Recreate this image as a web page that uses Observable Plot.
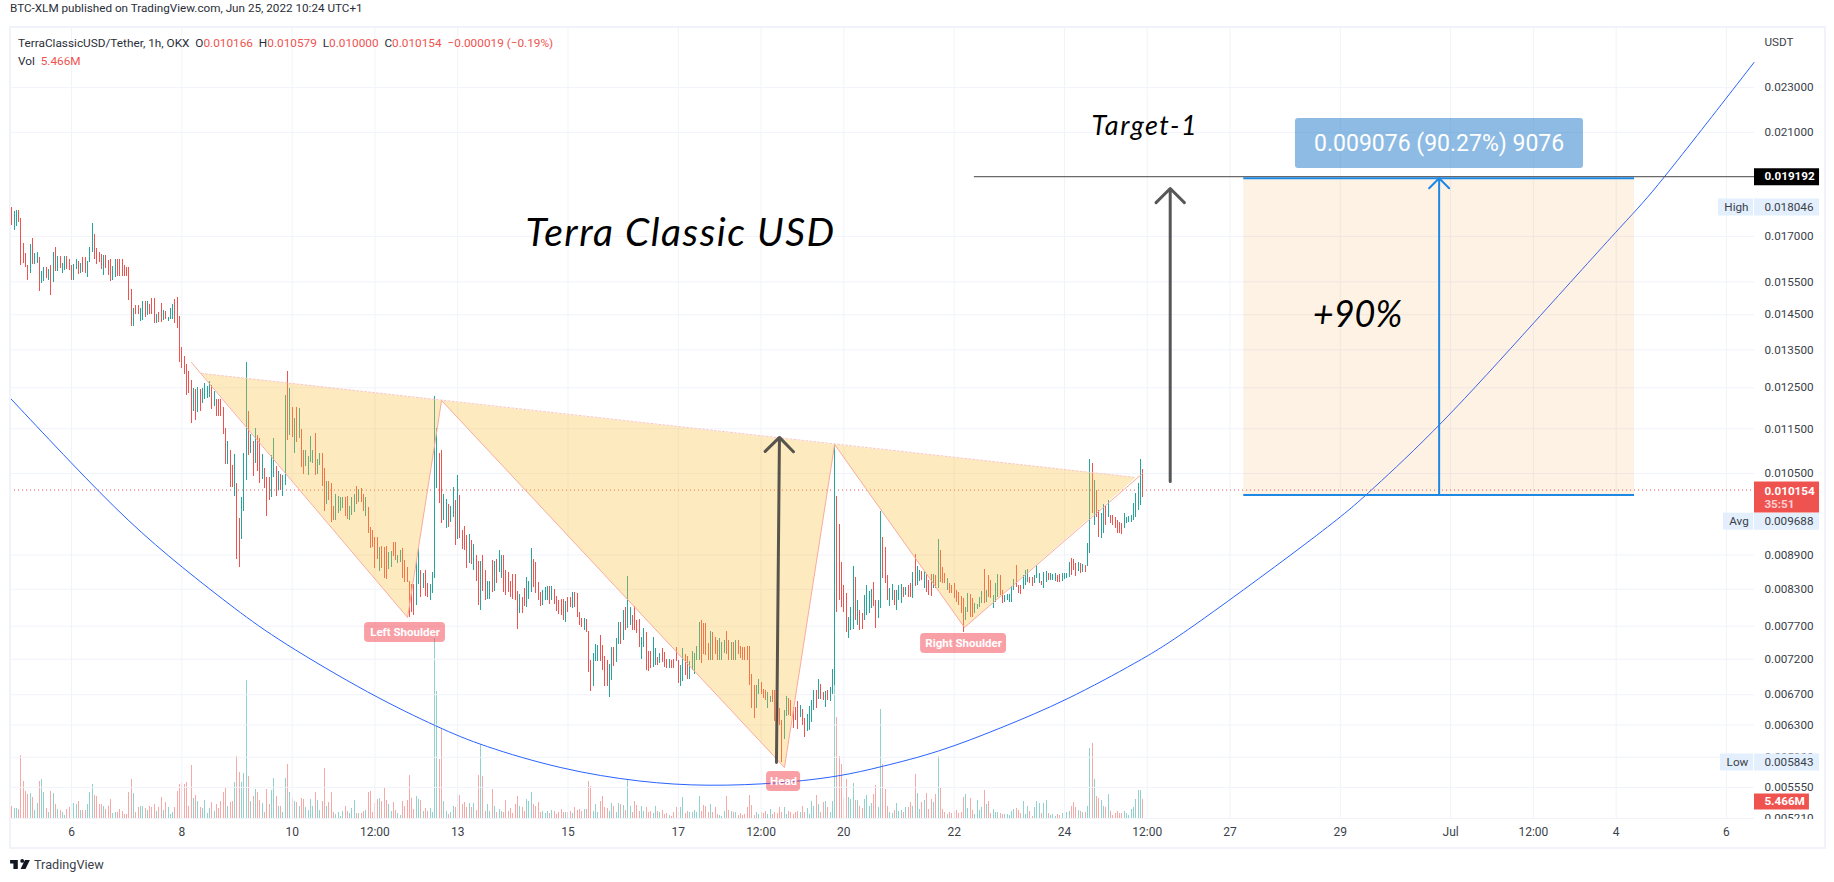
<!DOCTYPE html>
<html><head><meta charset="utf-8">
<script src="https://cdn.jsdelivr.net/npm/d3@7"></script>
<script src="https://cdn.jsdelivr.net/npm/@observablehq/plot@0.6"></script>
<style>
html,body{margin:0;padding:0;background:#fff;font-family:Roboto,sans-serif;color:#131722;overflow:hidden}
#head{height:26px;line-height:17px;font-size:11.7px;padding-left:10px;color:#2a2e39;box-sizing:border-box}
#wrap{position:relative;width:1834px;height:820px}
#wrap svg{position:absolute;left:0;top:0}
#frame{position:absolute;left:9px;top:0;width:1813px;height:819px;border:2px solid #f0f3fa;pointer-events:none}
#legend{position:absolute;left:18px;top:8px;font-size:11.8px;line-height:18px;color:#2a2e39;z-index:3}
#legend b{font-weight:400;color:#ef5350}
#foot{height:36px;padding-left:10px;display:flex;align-items:center;gap:4px;font-size:12.7px;color:#3b3f4a;box-sizing:border-box}
.spaced text{letter-spacing:1.5px}
</style></head><body>
<div id="head">BTC-XLM published on TradingView.com, Jun 25, 2022 10:24 UTC+1</div>
<div id="wrap">
<div id="frame"></div>
<div id="legend">TerraClassicUSD/Tether, 1h, OKX&nbsp; O<b>0.010166</b>&nbsp; H<b>0.010579</b>&nbsp; L<b>0.010000</b>&nbsp; C<b>0.010154</b>&nbsp; <b>−0.000019 (−0.19%)</b><br>Vol&nbsp; <b>5.466M</b></div>
</div>
<div id="foot"><svg width="20" height="11" viewBox="0 0 36 20"><path fill="#131722" d="M14 2H0v6h6v10h8V2zM22 7a3.5 3.5 0 1 0 0-7 3.5 3.5 0 0 0 0 7zM27 2h9l-8 16h-9z"/></svg><span>TradingView</span></div>
<script>
// hourly bars; hours are counted from Jun 6 00:00, the first bar is Jun 4 22:00. Prices in millionths of USDT.
const firstBarHour = -26;
const high = [
18046,17885,17919,17919,17630,16758,16410,16026,16726,16929,
16410,16453,16288,15831,15960,15960,15895,16026,16453,16620,
16320,16320,16091,16320,16320,16222,16026,16059,16222,16156,
16091,16288,16288,16156,16620,17453,17067,16588,16453,16387,
16354,16354,16189,16222,15993,16222,16222,16222,16222,16026,
15960,15960,15262,14685,14775,14775,14685,14895,14895,14895,
14805,14986,14986,14508,14566,14835,14625,14596,14419,14685,
14805,14955,15017,14448,13567,13318,13105,12921,12687,12482,
12456,12507,12456,12482,12610,12533,12661,12559,12406,12206,
12206,12206,12009,11508,11208,11005,10675,10916,10291,9585,
10000,10938,13159,11912,11369,11208,11508,11346,11277,10916,
10610,10418,10418,10894,11277,10654,10546,10482,10460,12306,
12921,12482,12009,11744,12009,11985,11484,11005,11005,10872,
11323,11005,11392,10806,10938,10938,10610,10333,10333,10291,
9822,10064,10020,10000,10000,10000,10020,9822,10000,10064,
10229,10167,10188,10064,10000,9802,9412,9354,9222,9222,
9037,9056,9037,9056,8946,8964,9129,9129,8891,8982,
9019,8801,8677,8434,8383,8383,8819,9037,8624,8572,
8624,8400,8383,8589,12281,11508,10938,11005,10064,9962,
9862,9822,10208,9942,10460,10043,9354,9431,9260,9279,
9166,9092,8891,8783,8783,8891,8624,8434,8434,8801,
8783,8819,8982,8891,8891,8624,8589,8434,8555,8555,
8264,8214,8164,8315,8503,8434,9019,8819,8766,8417,
8247,8281,8332,8349,8349,8349,8298,8180,8114,8130,
8130,8098,8164,8164,8247,8247,8231,7919,7822,7822,
7806,7619,7183,7286,7420,7405,7557,7405,7242,7183,
7125,7375,7375,7512,7760,7760,7951,7999,8520,7999,
7871,8015,7791,7806,7527,7665,7604,7315,7315,7527,
7360,7227,7286,7360,7301,7198,7198,7183,7198,7375,
7183,7110,7360,7271,7242,7168,7315,7286,7390,7760,
7791,7744,7744,7435,7619,7604,7527,7481,7512,7451,
7481,7619,7481,7451,7451,7481,7481,7390,7375,7375,
7390,7390,6982,6827,6827,6911,6869,6772,6758,6731,
6676,6758,6758,6595,6515,6359,6489,6676,6649,6622,
6529,6529,6609,6555,6502,6385,6437,6542,6622,6758,
6758,6911,6841,6731,6744,6758,6800,7052,11140,10020,
9469,8766,8366,8231,7838,7999,8694,8503,8114,7951,
7903,8198,8366,8264,8298,8417,8114,8114,9722,9222,
9037,8537,8315,8383,8281,8281,8366,8383,8332,8332,
8366,8400,8589,8910,8694,8624,8607,8607,8555,8451,
8555,8555,8537,9185,8982,8677,8572,8486,8400,8366,
8400,8281,8247,8180,8147,7999,8231,8214,8147,8064,
8048,8164,8264,8642,8281,8537,8451,8198,8400,8555,
8537,8281,8198,8214,8214,8349,8468,8712,8366,8366,
8537,8624,8642,8503,8503,8537,8712,8572,8434,8589,
8607,8572,8572,8555,8572,8537,8555,8572,8572,8572,
8766,8836,8819,8748,8766,8748,8730,8712,9110,10806,
10718,10354,10146,9742,9682,9862,9822,9942,9644,9644,
9605,9546,9508,9489,9682,9605,9625,9644,9882,10085,
10291,10806,10579];
const low = [
17380,17206,17347,17499,16026,16080,15948,15544,15767,16059,
16059,16080,15200,15450,15513,15598,15544,15078,15481,15831,
15831,15917,15767,15863,15895,15863,15544,15544,15895,15735,
15767,15790,15767,15640,16124,16453,16222,16059,16124,15895,
15703,15928,15703,15513,15544,15640,15671,15671,15671,15671,
15671,14925,14158,14158,14508,14508,14303,14331,14419,14478,
14508,14508,14245,14245,14274,14274,14331,14360,14303,14360,
14360,14245,14100,13159,13000,12851,12306,12356,11627,11912,
11696,11887,11912,12107,12206,12231,12256,11960,12034,11792,
11792,11792,11369,10697,10697,10208,10208,10020,8819,8677,
9185,9722,10354,10894,10938,10439,10718,10546,10291,10375,
10188,9625,9942,10000,10418,10020,10146,10146,10020,10250,
11231,11346,11300,10938,11186,11277,10632,10482,10654,10460,
10740,10718,10460,10482,10675,10229,9722,9862,9942,9508,
9546,9546,9682,9722,9782,9625,9566,9546,9644,9702,
9862,9902,9902,9722,9625,9298,9019,9037,8659,8819,
8607,8659,8486,8468,8642,8677,8872,8801,8748,8766,
8486,8417,8417,7838,7919,7870,8032,8383,8170,8315,
8180,8170,8114,8231,8486,10188,9882,9489,9546,9392,
9412,9508,9605,9074,9185,9203,9001,8982,8659,8748,
8730,8624,8434,8032,7951,8264,8114,8130,8130,8247,
8264,8400,8589,8486,8247,8198,8247,8164,8130,8114,
7650,7903,7903,8015,7999,8130,8247,8332,8231,8114,
8015,8032,8114,8114,8048,8114,8048,7935,7887,7871,
7791,7760,7919,7999,7983,7999,7838,7712,7681,7634,
7604,7010,6744,6813,7168,7168,7168,7038,6813,6813,
6663,6897,7096,7154,7420,7420,7481,7634,7665,7712,
7634,7634,7588,7375,7198,7375,7038,7024,7067,7082,
7110,7110,7139,7154,7082,7067,7067,7067,7067,7168,
6855,6813,6883,6967,6911,6911,7038,6982,7183,7183,
7139,7271,7257,7183,7183,7183,7271,7183,7183,7183,
7286,7271,7183,7183,7183,7183,7271,7213,7183,7183,
7183,6827,6515,6385,6515,6704,6704,6649,6622,6515,
6595,6595,6346,6333,6295,5843,6117,6411,6424,6411,
6256,6359,6244,6398,6295,6142,6218,6231,6333,6489,
6515,6635,6635,6622,6529,6622,6609,6704,6827,7919,
8114,7999,7919,7604,7512,7634,7650,7791,7712,7634,
7650,7791,7871,7903,7983,8015,7665,7822,7983,8486,
8400,8114,8015,8114,8032,7951,8114,8064,8164,8198,
8164,8164,8147,8349,8366,8434,8451,8315,8247,8198,
8180,8315,8315,8315,8417,8400,8400,8281,8231,8231,
8147,8081,8032,7903,7604,7791,7919,7838,7838,7903,
7967,7999,8064,8064,8081,8164,8147,7983,8081,8164,
8198,8064,8081,8114,8081,8081,8281,8332,8231,8214,
8298,8366,8417,8400,8349,8400,8486,8400,8366,8315,
8417,8451,8451,8451,8434,8417,8417,8434,8468,8486,
8503,8537,8624,8520,8607,8572,8589,8589,8694,8928,
9682,9450,9605,9222,9203,9298,9450,9605,9489,9450,
9392,9298,9298,9279,9392,9489,9508,9508,9546,9605,
9742,9842,10000];
// u = up bar (teal), d = down bar (red)
const direction = `
d u u d d d d d u d  u u d u u d u d u d  u d u u d d d u u d  u d d u u u d d d d
u d d d u u d d d d  d d d u d d u u d u  d d d u d d u d u u  u d d d d d d d d u
d u d u u u u d u d  d d d d u d d u d d  u u u d u d u d d u  d d d u u d u d u u
d u d u d u d d u u  u u d u u d d u d d  d u u u u d d u u u  d u d d u d d d d d
u d d d u u d d u u  d d d d d d u u d u  d d u u u u d d u u  d u u d u d d d d u
d u d d u d d u u d  u d u u d d d d d d  d u d d u u u d d d  d u u u d u d d d d
d u d d u d d d d u  d d d u u u d d d d  u u d u u d u d u u  d d d d u u d d d u
u d u d d d u d d d  d u u d d u u u u u  d d d d u d d d u u  u d d u d u d d d d
d d d d u u d d d u  u d d d d d u u d d  d d d u d d u u u u  d u d d u d u u u d
d d d d u u u d u d  d u u u u d d u u d  d d u u d u u u d u  d d u d u u d u d d
d u d u d d d u d d  d d d d d u u d d u  u u u d u d d u u u  d d u u u u u d d d
u u u d d u u u d u  u d u u u d d u u u  u d d d u d u d u u  d u d d u u d u d d
d d d d u u u u u u  u u d`.replace(/\s/g, "");
// volume in millions
const volume = [
3.6,2.8,2.8,2.5,18.3,10.8,7.7,6.8,7.1,6.0,
2.2,4.2,10.6,11.1,7.4,2.8,1.6,7.7,7.1,3.9,
2.5,2.2,1.6,.8,2.5,3.1,4.5,4.2,3.9,4.8,
2.2,2.2,2.2,3.9,7.4,9.7,6.5,6.2,3.9,3.9,
3.4,2.5,3.6,5.4,1.3,1.6,1.6,2.5,1.9,1.1,
1.1,7.4,11.1,7.1,1.6,3.1,3.4,3.4,2.8,2.2,
3.4,3.1,3.9,1.9,3.1,6.0,2.2,4.5,3.1,1.1,
1.6,3.1,7.7,9.7,10.0,9.7,10.3,3.4,15.2,5.7,
6.5,4.8,3.1,2.8,5.1,1.3,2.8,4.5,1.9,3.9,
2.8,4.8,7.4,8.8,3.4,4.5,4.8,10.3,17.8,13.2,
10.3,12.9,39.7,12,4.8,6.2,8.5,7.4,5.1,4.2,
1.6,8.5,3.9,8,11.4,6.2,3.4,3.6,1.6,11.4,
15.5,7.4,5.7,4.8,4.5,3.6,5.7,5.4,3.1,2.2,
5.4,3.6,7.4,5.1,2.2,4.8,14.3,3.4,4.5,7.4,
1.6,1.1,1.6,.5,1.9,3.4,1.9,1.3,2.8,5.1,
1.3,1.3,1.3,1.9,2.2,7.4,7.7,1.6,4.2,5.4,
5.7,4.8,8.8,5.1,3.9,1.9,4.5,2.2,1.3,.8,
4.8,3.6,5.1,12.3,5.7,2.5,6.2,5.4,5.1,1.9,
2.8,1.9,2.8,1.6,51.8,36.6,16.9,25.7,4.8,1.9,
1.1,1.6,3.6,3.1,6.8,6.5,4,4.5,3.1,4.3,
3.1,4.3,2.4,12.4,21.3,12,2.1,4,2.1,8.4,
3.4,1.6,2.6,2.1,1.6,5.2,2.1,2.8,1.3,4,
6.4,3.4,3.1,2.1,5.5,5,7.4,4,3.6,4.5,
1.6,2.1,1.4,2.1,1.4,2.3,2.1,1.2,1.6,2.6,
1.6,1.8,1.6,2.1,1.4,3.1,2.4,2.6,2.1,2.6,
2.6,10.6,9.1,2.1,4,1.6,5,6.4,3.1,2.8,
2.1,4.2,3.6,1.6,4.3,4,3.8,2.3,11.2,3.4,
1.6,5,3.7,2.1,3.4,2.1,3.1,1.6,2.1,1.3,
3.4,2.1,1.6,2.4,1.2,1.3,.9,.7,1.6,3.1,
1.8,3.1,6,1.3,2.1,1.6,1.6,2.4,1.8,6.4,
2.1,3.7,3.4,1.6,4,1.6,3.1,1.2,.9,.7,
2.1,6.4,2.3,2.1,1.6,1.8,.9,1.3,.9,1.2,
3.1,6.7,3.8,1,1.6,1.2,1.6,1.3,2.1,1.1,
2.6,1.2,1.6,1.3,3.1,1.6,3.1,1.2,2,1.6,
1.2,1.6,2,1.6,3.4,1.6,2.8,1.2,5,3.6,
6.6,4,1.6,4.5,5,3.1,1.6,4.8,41.3,29.2,
17.9,15.7,5.7,11.1,6,5.4,10,5.1,5.1,3.6,
2.8,5.4,6.5,3.6,4.2,6.8,9.4,3.1,31.3,15.5,
8.3,3.4,1.6,1.3,2.2,4.2,1.9,2.2,1.6,3.1,
3.1,4.5,3.4,12.6,7.1,2.5,4.5,5.1,7.1,2.5,
5.4,4.5,6.8,18,8.8,2.5,1.6,1.1,1.6,1.3,
1.9,2.2,1.3,1.6,6,6.8,2.8,5.7,2.2,1.1,
5.1,2.2,3.1,8,3.9,4.8,1.3,2.5,1.6,1.6,
1.3,1.1,1.1,1.1,.8,1.9,2.5,2.8,2.2,1.3,
4.8,1.1,3.4,1.9,.5,3.1,4.8,4.2,1.3,4.2,
5.1,1.3,.8,1.1,.5,1.1,.8,1.3,1.6,1.6,
1.9,3.4,4.5,3.1,2.2,1.9,1.6,1.6,3.6,20.1,
21.5,11.1,6.2,5.7,5.1,3.6,3.1,6.8,1.9,.8,
1.3,1.9,1.3,1.3,1.9,1.3,.8,2.5,3.1,5.4,
8,8,5.466];
if (high.length !== 493 || low.length !== 493 || direction.length !== 493 || volume.length !== 493)
  throw new Error(`lengths ${high.length} ${low.length} ${direction.length} ${volume.length}`);

// axis ticks
const priceTicks = [23000,21000,17000,15500,14500,13500,12500,11500,10500,8900,8300,7700,7200,6700,6300,5900,5550,5210];
const timeTickHours = [0,48,96,132,168,216,264,300,336,384,432,468,504,552,600,636,672,720];
const timeTickLabels = ["6","8","10","12:00","13","15","17","12:00","20","22","24","12:00","27","29","Jul","12:00","4","6"];

// the rounded cup: [hour, price]
const cupCurve = [[-26.5,12230],[0,10718],[25,9508],[48,8677],[72,7951],[90,7481],[130.5,6690],[160.5,6256],[178,6044],[213,5756],[247.5,5607],[277,5561],[308.5,5595],[334.5,5675],[352,5785],[377,5958],[404,6256],[433,6622],[465,7183],[482.5,7541],[551,9546],[564,10085],[595,11530],[636,14245],[679.5,17847],[687,18474],[732,24206]];
// head and shoulders drawing: [hour, price]
const patternLine = [[52.2,13159],[146.2,7838],[161,12181],[310.2,5779],[332,11140],[388.5,7681],[466,10503]];
const necklinePoints = [[56.6,12870],[463,10417]];
const patternFills = [
  [[56.6,12870],[146.2,7838],[161,12181]],
  [[161,12181],[310.2,5779],[332,11140]],
  [[332,11140],[388.5,7681],[463,10417]]];
const patternLabels = [
  {text:"Left Shoulder",from:127.5,to:162.7,top:7760,bottom:7451,at:145.1,mid:7604},
  {text:"Right Shoulder",from:369.4,to:406.8,top:7588,bottom:7286,at:388.1,mid:7437},
  {text:"Head",from:302.4,to:317.2,top:5732,bottom:5505,at:309.8,mid:5617}];
// drawings
const blackArrows = [{h1:306.7,p1:5838,h2:308,p2:11300},{h1:478,p1:10333,h2:478,p2:18740}];
const measure = {from:510,to:680,bottom:10054,top:19130,arrowAt:595,labelFrom:532.5,labelTo:657.8,labelTop:21601,labelBottom:19515,labelPrice:20533};
const targetLine = {from:392.8,price:19192};
const lastPrice = 10154;
const notes = [
  {text:"Terra Classic USD",h:265,price:17102,size:39,cls:"spaced"},
  {text:"Target-1",h:467,price:21255,size:27,cls:"spaced"},
  {text:"+90%",h:559.5,price:14478,size:36,cls:"plain"}];
// price-axis tags: price, box end hours, text hour, colours
const axisEnd = 732.2, tagEnd = 760.5, tagText = 736.5;
const valueTags = [
  {price:19192,label:"0.019192",color:"#000000",ink:"#ffffff",h:17,bold:1,dy:0},
  {price:18046,label:"0.018046",color:"#e3effd",ink:"#3b3f4a",h:17,bold:0,dy:0},
  {price:9688,label:"0.009688",color:"#e3effd",ink:"#3b3f4a",h:17,bold:0,dy:8},
  {price:5843,label:"0.005843",color:"#e3effd",ink:"#3b3f4a",h:17,bold:0,dy:0}];
const nameTags = [
  {price:18046,label:"High",from:716.5,dy:0},
  {price:9688,label:"Avg",from:718.7,dy:8},
  {price:5843,label:"Low",from:717.4,dy:0}];

const T0 = Date.UTC(2022, 5, 6);
const t = h => new Date(T0 + h * 36e5);
const p = v => v / 1e6;
const xScale = {type: "utc", domain: [t(-26.54), t(axisEnd)]};
const yDomain = [p(5210), p(25988)];
const size = {width: 1834, height: 820, marginLeft: 10, marginRight: 80, marginTop: 1, marginBottom: 28};
const TEAL = "#26a69a", RED = "#ef5350", GRID = "#f0f3fa", FONT = "Roboto";
const bars = high.map((v, i) => ({time: t(firstBarHour + i), high: p(v), low: p(low[i]), volume: volume[i], up: direction[i] === "u"}));
const ups = bars.filter(d => d.up), downs = bars.filter(d => !d.up);
const pts = a => a.map(([h, v]) => ({x: t(h), y: p(v)}));

const volumePlot = Plot.plot({...size,
  style: {background: "transparent"},
  x: {...xScale, axis: null}, y: {domain: [0, 228], axis: null},
  marks: [
    Plot.ruleX(ups, {x: "time", y1: () => 0, y2: "volume", stroke: TEAL, strokeOpacity: .5, strokeWidth: 1, shapeRendering: "crispEdges"}),
    Plot.ruleX(downs, {x: "time", y1: () => 0, y2: "volume", stroke: RED, strokeOpacity: .5, strokeWidth: 1, shapeRendering: "crispEdges"})
  ]});

const pricePlot = Plot.plot({...size,
  style: {background: "transparent", fontFamily: FONT, fontSize: "11.7px", color: "#3b3f4a"},
  x: {...xScale}, y: {type: "log", domain: yDomain},
  marks: [
    Plot.gridX(timeTickHours.map(t), {stroke: GRID, strokeOpacity: 1}),
    Plot.gridY(priceTicks.map(p), {stroke: GRID, strokeOpacity: 1}),
    Plot.axisX({anchor: "bottom", ticks: timeTickHours.map(t), tickSize: 0, tickPadding: 9, label: null,
      tickFormat: d => timeTickLabels[timeTickHours.indexOf((d - T0) / 36e5)], fontSize: 12}),
    Plot.axisY({anchor: "right", ticks: priceTicks.map(p), tickSize: 0, tickPadding: 10, label: null, tickFormat: d => d.toFixed(6)}),
    // the lowest tick is cut off by the bottom of the price pane
    Plot.ruleY([p(5210)], {x1: () => t(axisEnd), x2: () => t(tagEnd), stroke: "#fff", strokeWidth: 9, dy: 5}),
    Plot.ruleY([p(lastPrice)], {stroke: RED, strokeDasharray: "1 3"}),
    Plot.line(pts(cupCurve), {x: "x", y: "y", curve: "basis", stroke: "#2962ff", strokeWidth: 1}),
    Plot.ruleX(ups, {x: "time", y1: "low", y2: "high", stroke: TEAL, strokeWidth: 1, shapeRendering: "crispEdges"}),
    Plot.ruleX(downs, {x: "time", y1: "low", y2: "high", stroke: RED, strokeWidth: 1, shapeRendering: "crispEdges"}),
    ...patternFills.map(f => Plot.line(pts(f), {x: "x", y: "y", stroke: "none", fill: "#fbbf3c", fillOpacity: .33})),
    Plot.line(pts(patternLine), {x: "x", y: "y", stroke: "#f8ab9c", strokeWidth: 1}),
    Plot.line(pts(necklinePoints), {x: "x", y: "y", stroke: "#f9c8c4", strokeWidth: 1, strokeDasharray: "2 2"}),
    // measuring tool
    Plot.rect([measure], {x1: d => t(d.from), x2: d => t(d.to), y1: d => p(d.bottom), y2: d => p(d.top), fill: "#f57c00", fillOpacity: .1}),
    Plot.ruleY([targetLine], {x1: d => t(d.from), x2: () => t(axisEnd), y: d => p(d.price), stroke: "#444", strokeWidth: 1}),
    Plot.ruleY([measure.top, measure.bottom], {x1: () => t(measure.from), x2: () => t(measure.to), y: p, stroke: "#1e88e5", strokeWidth: 2}),
    Plot.arrow([measure], {x1: d => t(d.arrowAt), x2: d => t(d.arrowAt), y1: d => p(d.bottom), y2: d => p(d.top), bend: 0,
      stroke: "#1e88e5", strokeWidth: 2, headLength: 10.6, headAngle: 90}),
    Plot.rect([measure], {x1: d => t(d.labelFrom), x2: d => t(d.labelTo), y1: d => p(d.labelBottom), y2: d => p(d.labelTop), fill: "#1e77c8", fillOpacity: .5, rx: 3}),
    Plot.text([measure], {x: d => t(d.arrowAt), y: d => p(d.labelPrice), text: () => "0.009076 (90.27%) 9076", fill: "#fff", fontSize: 23, fontFamily: FONT}),
    Plot.arrow(blackArrows, {x1: d => t(d.h1), x2: d => t(d.h2), y1: d => p(d.p1), y2: d => p(d.p2), bend: 0,
      stroke: "#3a3a3a", strokeOpacity: .85, strokeWidth: 3, headLength: 10, headAngle: 90}),
    // pattern labels
    Plot.rect(patternLabels, {x1: d => t(d.from), x2: d => t(d.to), y1: d => p(d.bottom), y2: d => p(d.top), fill: "#f23645", fillOpacity: .47, rx: 4}),
    Plot.text(patternLabels, {x: d => t(d.at), y: d => p(d.mid), text: "text", fill: "#fff", fontSize: 11.5, fontWeight: 700, fontFamily: FONT}),
    // free notes
    ...notes.map(n => Plot.text([n], {x: d => t(d.h), y: d => p(d.price), text: "text", fill: "#000", fontSize: n.size, fontStyle: "italic", fontFamily: "Lato", className: n.cls})),
    // price-axis tags
    ...valueTags.map(g => Plot.ruleY([g], {x1: () => t(axisEnd), x2: () => t(tagEnd), y: d => p(d.price), stroke: g.color, strokeWidth: g.h, dy: g.dy})),
    ...valueTags.map(g => Plot.text([g], {x: () => t(tagText), y: d => p(d.price), text: "label", textAnchor: "start", fill: g.ink, fontWeight: g.bold ? 700 : 400, dy: g.dy, fontSize: 11.7, fontFamily: FONT})),
    ...nameTags.map(g => Plot.ruleY([g], {x1: d => t(d.from), x2: () => t(axisEnd - .4), y: d => p(d.price), stroke: "#e3effd", strokeWidth: 17, dy: g.dy})),
    Plot.text(nameTags, {x: d => t((d.from + axisEnd) / 2), y: d => p(d.price), text: "label", fill: "#3b3f4a", dy: 0, fontSize: 11.7, fontFamily: FONT, filter: d => !d.dy}),
    Plot.text(nameTags, {x: d => t((d.from + axisEnd) / 2), y: d => p(d.price), text: "label", fill: "#3b3f4a", dy: 8, fontSize: 11.7, fontFamily: FONT, filter: d => d.dy}),
    // last price and volume tags
    Plot.ruleY([p(lastPrice)], {x1: () => t(axisEnd), x2: () => t(tagEnd), stroke: RED, strokeWidth: 31, dy: 7}),
    Plot.text([p(lastPrice)], {x: () => t(tagText), y: d => d, text: () => "0.010154", textAnchor: "start", fill: "#fff", fontWeight: 700, fontSize: 11.7, fontFamily: FONT, dy: 1}),
    Plot.text([p(lastPrice)], {x: () => t(tagText), y: d => d, text: () => "35:51", textAnchor: "start", fill: "#fbd0cf", fontWeight: 700, fontSize: 11.7, fontFamily: FONT, dy: 14}),
    Plot.ruleY([p(5393)], {x1: () => t(axisEnd), x2: () => t(756.1), stroke: RED, strokeWidth: 16}),
    Plot.text([p(5393)], {x: () => t(tagText), y: d => d, text: () => "5.466M", textAnchor: "start", fill: "#fff", fontWeight: 700, fontSize: 11.7, fontFamily: FONT}),
    Plot.text([p(25200)], {x: () => t(tagText), y: d => d, text: () => "USDT", textAnchor: "start", fill: "#3b3f4a", fontSize: 11.7, fontFamily: FONT})
  ]});
const wrap = document.getElementById("wrap");
wrap.prepend(pricePlot);
wrap.prepend(volumePlot);
</script>
</body></html>
